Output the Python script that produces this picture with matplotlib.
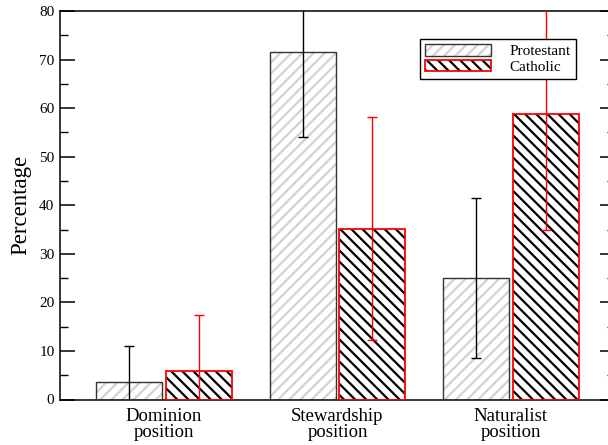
import numpy as np
import matplotlib
matplotlib.use("Agg")
import matplotlib.pyplot as plt
from matplotlib.patches import Patch

# values
categories = ["Dominion\nposition", "Stewardship\nposition", "Naturalist\nposition"]
protestant = [3.6, 71.5, 25.0]
protestant_err = [7.4, 17.4, 16.4]
catholic = [5.8, 35.2, 58.8]
catholic_err = [11.6, 23.0, 23.8]

plt.rcParams["font.family"] = ["Liberation Serif", "DejaVu Serif"]
plt.rcParams["hatch.linewidth"] = 1.6

fig = plt.figure(figsize=(6.08, 4.45), dpi=100)
ax = fig.add_axes([60/608, 1 - 399.5/445, 555/608, 388.5/445])

x = np.arange(1, len(categories) + 1)
w = 0.38
off = 0.2

# protestant: light gray hatch, dark outline
ax.bar(x - off, protestant, w, color="white", edgecolor="#d2d2d2", hatch="///", linewidth=0, zorder=2)
ax.bar(x - off, protestant, w, fill=False, edgecolor="#333333", linewidth=1.0, zorder=3)
# catholic: black hatch, red outline
ax.bar(x + off, catholic, w, color="white", edgecolor="black", hatch="\\\\\\", linewidth=0, zorder=2)
ax.bar(x + off, catholic, w, fill=False, edgecolor="red", linewidth=1.3, zorder=3)

ax.errorbar(x - off, protestant, yerr=protestant_err, fmt="none", ecolor="black",
            elinewidth=1.0, capsize=3.6, capthick=1.0, zorder=4)
ax.errorbar(x + off, catholic, yerr=catholic_err, fmt="none", ecolor="red",
            elinewidth=1.0, capsize=3.6, capthick=1.0, zorder=4)

ax.set_xlim(0.4, 3.6)
ax.set_ylim(0, 80)
ax.set_xticks(x)
ax.set_xticklabels(categories, fontsize=13.5, linespacing=0.95)
ax.tick_params(axis="x", length=0, pad=6)
ax.set_yticks(np.arange(0, 81, 10))
ax.set_yticks(np.arange(5, 80, 10), minor=True)
ax.tick_params(axis="y", which="major", direction="in", length=11, width=1.1,
               labelsize=11, left=True, right=True, pad=4)
ax.tick_params(axis="y", which="minor", direction="in", length=5.5, width=1.0,
               left=True, right=True)
for s in ax.spines.values():
    s.set_linewidth(1.1)

ax.set_ylabel("Percentage", fontsize=16.5, labelpad=6)

h_prot = (Patch(facecolor="white", edgecolor="#d2d2d2", hatch="///", linewidth=0),
          Patch(fill=False, edgecolor="#333333", linewidth=1.0))
h_cath = (Patch(facecolor="white", edgecolor="black", hatch="\\\\\\", linewidth=0),
          Patch(fill=False, edgecolor="red", linewidth=1.3))
leg = ax.legend([h_prot, h_cath], ["Protestant", "Catholic"], loc="upper left",
                bbox_to_anchor=(0.6486, 0.928), borderaxespad=0, fontsize=11,
                handlelength=4.3, handleheight=0.75, labelspacing=0.1,
                handletextpad=1.2, borderpad=0.35, fancybox=False, framealpha=1)
leg.get_frame().set_edgecolor("black")
leg.get_frame().set_linewidth(1.0)

fig.savefig("out.png", dpi=100)
